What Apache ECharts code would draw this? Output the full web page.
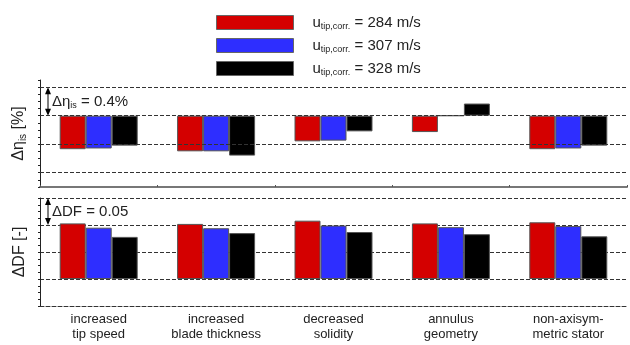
<!DOCTYPE html>
<html>
<head>
<meta charset="utf-8">
<script src="https://cdn.jsdelivr.net/npm/echarts@6/dist/echarts.min.js"></script>
<style>
  html, body { margin: 0; padding: 0; background: #fff; }
  #chart { width: 630px; height: 345px; }
</style>
</head>
<body>
<div id="chart"></div>
<script>
// categories and values
const categories = ['increased\ntip speed', 'increased\nblade thickness', 'decreased\nsolidity', 'annulus\ngeometry', 'non-axisym-\nmetric stator']
const tipSpeeds = [284, 307, 328]
const etaRed = [-0.47, -0.50, -0.36, -0.23, -0.47]
const etaBlue = [-0.46, -0.50, -0.35, 0, -0.46]
const etaBlack = [-0.42, -0.56, -0.22, 0.17, -0.42]
const dfRed = [0.103, 0.102, 0.108, 0.103, 0.105]
const dfBlue = [0.095, 0.094, 0.099, 0.096, 0.098]
const dfBlack = [0.078, 0.085, 0.087, 0.083, 0.079]
const etaGridLines = [0.4, 0, -0.4, -0.8]

const colors = ['#d40000', '#2e2eff', '#000000']
const font = 'Liberation Sans, Arial, sans-serif'
const chart = echarts.init(document.getElementById('chart'))

const dashed = { color: '#333', width: 1, type: [4, 2] }

const barSeries = (name, data, color, idx) => ({
  name: String(name),
  type: 'bar',
  xAxisIndex: idx,
  yAxisIndex: idx,
  data: data,
  barWidth: 26,
  barGap: '0%',
  z: 3,
  itemStyle: { color: color, borderColor: '#555', borderWidth: 1 },
  emphasis: { disabled: true },
})

const etaSets = [etaRed, etaBlue, etaBlack]
const dfSets = [dfRed, dfBlue, dfBlack]

const series = []
tipSpeeds.forEach((v, i) => series.push(barSeries(v, etaSets[i], colors[i], 0)))
tipSpeeds.forEach((v, i) => series.push(barSeries(v, dfSets[i], colors[i], 1)))
// dashed grid lines of the upper panel (behind the bars)
series.push({
  type: 'scatter',
  xAxisIndex: 0,
  yAxisIndex: 0,
  data: [],
  z: 1,
  silent: true,
  markLine: {
    silent: true,
    symbol: 'none',
    label: { show: false },
    lineStyle: dashed,
    data: etaGridLines.map(v => ({ yAxis: v })),
  },
})

const yAxisCommon = {
  type: 'value',
  axisLine: { show: true, lineStyle: { color: '#222', width: 1 } },
  axisTick: { show: true, length: 2, lineStyle: { color: '#222' } },
  axisLabel: { show: false },
  nameLocation: 'middle',
  nameRotate: 90,
  nameGap: 12,
  nameTextStyle: {
    fontFamily: font,
    fontSize: 16,
    color: '#222',
    rich: {
      b: { fontFamily: font, fontSize: 16, color: '#222' },
      s: { fontFamily: font, fontSize: 10, color: '#222', verticalAlign: 'bottom', padding: [8, 0, 0, 0] },
    },
  },
}

chart.setOption({
  animation: false,
  textStyle: { fontFamily: font },
  legend: {
    orient: 'vertical',
    left: 211,
    top: 10,
    itemWidth: 77,
    itemHeight: 14,
    itemGap: 7,
    icon: 'rect',
    selectedMode: false,
    itemStyle: { borderColor: '#666', borderWidth: 1 },
    data: tipSpeeds.map(String),
    formatter: name => `{g|}{u|u}{s|tip,corr.}{u| = ${name} m/s}`,
    textStyle: {
      rich: {
        g: { width: 14 },
        u: { fontFamily: font, fontSize: 15, color: '#222' },
        s: { fontFamily: font, fontSize: 9, color: '#222', verticalAlign: 'bottom', padding: [8, 0, 0, 0] },
      },
    },
  },
  grid: [
    { left: 40, right: 3, top: 80, height: 107 },
    { left: 40, right: 3, top: 198, height: 108 },
  ],
  xAxis: [
    {
      type: 'category',
      gridIndex: 0,
      data: categories,
      axisLine: { show: true, onZero: false, lineStyle: { color: '#777', width: 2 } },
      axisTick: { show: true, inside: true, length: 2, lineStyle: { color: '#555' } },
      axisLabel: { show: false },
    },
    {
      type: 'category',
      gridIndex: 1,
      data: categories,
      axisLine: { show: true, onZero: false, lineStyle: dashed },
      axisTick: { show: false },
      axisLabel: { fontFamily: font, fontSize: 13, lineHeight: 15, color: '#222', margin: 6 },
    },
  ],
  yAxis: [
    Object.assign({}, yAxisCommon, {
      gridIndex: 0,
      min: -1.0,
      max: 0.5,
      interval: 0.1,
      splitLine: { show: false },
      name: '{b|Δη}{s|is}{b| [%]}',
    }),
    Object.assign({}, yAxisCommon, {
      gridIndex: 1,
      min: -0.05,
      max: 0.15,
      interval: 0.05,
      minorTick: { show: true, splitNumber: 4, length: 2, lineStyle: { color: '#222' } },
      splitLine: { show: true, lineStyle: dashed },
      name: '{b|ΔDF [-]}',
    }),
  ],
  series: series,
})

// scale annotations (double arrows) placed through the axes
const annotations = [
  { axis: 0, from: 0.4, to: 0, text: '{b|Δη}{s|is}{b| = 0.4%}' },
  { axis: 1, from: 0.15, to: 0.1, text: '{b|ΔDF = 0.05}' },
]
const graphics = []
annotations.forEach(a => {
  const y1 = chart.convertToPixel({ yAxisIndex: a.axis }, a.from)
  const y2 = chart.convertToPixel({ yAxisIndex: a.axis }, a.to)
  const x = 48
  graphics.push({ type: 'line', shape: { x1: x, y1: y1 + 2, x2: x, y2: y2 - 2 }, style: { stroke: '#000', lineWidth: 1 } })
  graphics.push({ type: 'polygon', shape: { points: [[x, y1], [x - 3, y1 + 7], [x + 3, y1 + 7]] }, style: { fill: '#000' } })
  graphics.push({ type: 'polygon', shape: { points: [[x, y2], [x - 3, y2 - 7], [x + 3, y2 - 7]] }, style: { fill: '#000' } })
  graphics.push({
    type: 'text',
    x: 52,
    y: (y1 + y2) / 2,
    style: {
      text: a.text,
      verticalAlign: 'middle',
      rich: {
        b: { fontFamily: font, fontSize: 15, fill: '#222' },
        s: { fontFamily: font, fontSize: 9, fill: '#222', verticalAlign: 'bottom', padding: [8, 0, 0, 0] },
      },
    },
  })
})
chart.setOption({ graphic: graphics })
</script>
</body>
</html>
